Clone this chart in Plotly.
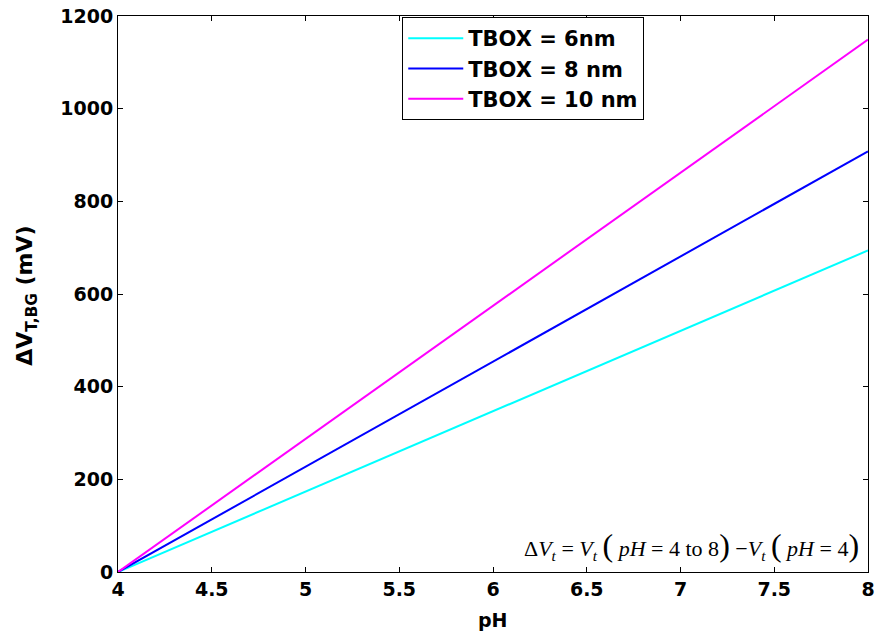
import plotly.graph_objects as go

ph = [4, 8]
tbox6 = [0, 694]
tbox8 = [0, 908]
tbox10 = [0, 1149]
names = ["TBOX = 6nm", "TBOX = 8 nm", "TBOX = 10 nm"]
colors = ["#00FFFF", "#0000FF", "#FF00FF"]
xticks = [4, 4.5, 5, 5.5, 6, 6.5, 7, 7.5, 8]
xticklabels = ["4", "4.5", "5", "5.5", "6", "6.5", "7", "7.5", "8"]
yticks = [0, 200, 400, 600, 800, 1000, 1200]

SANS = "DejaVu Sans, Arial, sans-serif"

fig = go.Figure()
for ys, n, c in zip([tbox6, tbox8, tbox10], names, colors):
    fig.add_trace(go.Scatter(x=ph, y=ys, mode="lines", name="<b>%s</b>" % n,
                             line=dict(color=c, width=2)))

fig.update_layout(
    width=880, height=637,
    margin=dict(l=118, r=12, t=16, b=65),
    paper_bgcolor="white", plot_bgcolor="white",
    font=dict(family=SANS, size=18, color="black"),
    showlegend=True,
    legend=dict(x=0.379, y=0.998, xanchor="left", yanchor="top",
                bordercolor="black", borderwidth=1, bgcolor="white",
                font=dict(family=SANS, size=21, color="black"),
                tracegroupgap=0, itemwidth=55),
)
fig.update_xaxes(range=[4, 8], tickvals=xticks, ticktext=["<b>%s</b>" % t for t in xticklabels],
                 ticks="inside", ticklen=5, tickcolor="black", showline=True, linecolor="black",
                 linewidth=1, mirror="ticks", showgrid=False, zeroline=False, automargin=False,
                 tickfont=dict(family=SANS, size=19))
fig.update_yaxes(range=[0, 1200], tickvals=yticks, ticktext=["<b>%d</b>" % t for t in yticks],
                 ticks="inside", ticklen=5, tickcolor="black", showline=True, linecolor="black",
                 linewidth=1, mirror="ticks", showgrid=False, zeroline=False, automargin=False,
                 tickfont=dict(family=SANS, size=19))

# axis titles
fig.add_annotation(x=0.5, y=-0.086, xref="paper", yref="paper", xanchor="center", yanchor="middle",
                   text="<b>pH</b>", showarrow=False, font=dict(family=SANS, size=19, color="black"))
fig.add_annotation(x=-0.122, y=0.496, xref="paper", yref="paper", xanchor="center", yanchor="middle",
                   textangle=-90, text="<b>ΔV<sub>T,BG</sub> (mV)</b>", showarrow=False,
                   font=dict(family=SANS, size=22, color="black"))

LP = '<span style="font-size:32px">(</span>'
RP = '<span style="font-size:32px">)</span>'
eq = ("Δ<i>V</i><sub><i>t</i></sub> = <i>V</i><sub><i>t</i></sub> " + LP + " <i>pH</i> = 4 to 8" + RP +
      " −<i>V</i><sub><i>t</i></sub> " + LP + " <i>pH</i> = 4" + RP)
fig.add_annotation(x=0.99, y=0.048, xref="paper", yref="paper", xanchor="right", yanchor="middle",
                   text=eq, showarrow=False,
                   font=dict(family="Liberation Serif, Times New Roman, serif", size=22, color="black"))

fig.write_html("out.html", post_script="document.body.style.margin='0';",
               config={"displayModeBar": False})
